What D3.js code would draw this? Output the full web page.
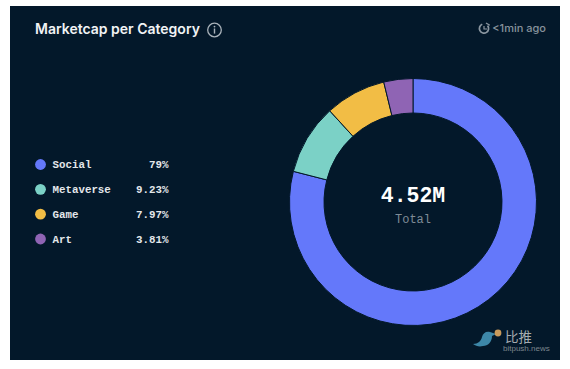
<!DOCTYPE html>
<html>
<head>
<meta charset="utf-8">
<script src="https://cdn.jsdelivr.net/npm/d3@7"></script>
<style>
html, body { margin: 0; padding: 0; background: #fff; }
svg { display: block; }
</style>
</head>
<body>
<div id="chart"></div>
<script>
const categories = ["Social", "Metaverse", "Game", "Art"];
const shares = [79, 9.23, 7.97, 3.81];
const shareLabels = ["79%", "9.23%", "7.97%", "3.81%"];
const colors = ["#6478fa", "#7bd1c6", "#f2bd45", "#8f64b4"];
const totalLabel = "4.52M";

const width = 570;
const height = 369;
const bg = "#03182a";
const mono = "'Liberation Mono', 'DejaVu Sans Mono', monospace";

const svg = d3.select("#chart").append("svg")
    .attr("width", width)
    .attr("height", height);

svg.append("rect")
    .attr("x", 10).attr("y", 6)
    .attr("width", 550).attr("height", 354)
    .attr("fill", bg);

// header
svg.append("text")
    .attr("x", 35).attr("y", 34)
    .attr("fill", "#f1f3f5")
    .style("font", "600 14px Inter, sans-serif")
    .text("Marketcap per Category");

const info = svg.append("g").attr("transform", "translate(214.5,30)");
info.append("circle").attr("r", 6.8).attr("fill", "none").attr("stroke", "#a9b2ba").attr("stroke-width", 1.3);
info.append("line").attr("y1", -1.5).attr("y2", 3.6).attr("stroke", "#a9b2ba").attr("stroke-width", 1.4);
info.append("circle").attr("cy", -3.4).attr("r", 0.9).attr("fill", "#a9b2ba");

const clock = svg.append("g").attr("transform", "translate(484,28.5)");
clock.append("path")
    .attr("d", d3.arc().innerRadius(4.6).outerRadius(4.6).startAngle(0.9).endAngle(5.9)())
    .attr("fill", "none").attr("stroke", "#8b96a0").attr("stroke-width", 1.7);
clock.append("path")
    .attr("d", "M0,-2.4V0.5H3")
    .attr("fill", "none").attr("stroke", "#8b96a0").attr("stroke-width", 1.2);
clock.append("path")
    .attr("d", "M2,-5.5L5.8,-3.2")
    .attr("fill", "none").attr("stroke", "#8b96a0").attr("stroke-width", 1.3);

svg.append("text")
    .attr("x", 546).attr("y", 32)
    .attr("text-anchor", "end")
    .attr("fill", "#87929c")
    .style("font", "500 11px Inter, sans-serif")
    .text("<1min ago");

// legend
const rowY = d3.scalePoint().domain(categories).range([164.5, 239]);

const rows = svg.append("g").selectAll("g")
    .data(categories)
    .enter()
    .append("g")
    .attr("transform", d => "translate(0," + rowY(d) + ")");

rows.append("circle")
    .attr("cx", 40.5).attr("r", 5.4)
    .attr("fill", (d, i) => colors[i]);

rows.append("text")
    .attr("x", 52.5).attr("y", 3.5)
    .attr("fill", "#e3e7ea")
    .style("font", "bold 10.8px " + mono)
    .text(d => d);

rows.append("text")
    .attr("x", 168.5).attr("y", 3.5)
    .attr("text-anchor", "end")
    .attr("fill", "#e3e7ea")
    .style("font", "bold 10.8px " + mono)
    .text((d, i) => shareLabels[i]);

// donut
const pie = d3.pie().sort(null).value(d => d);
const arc = d3.arc().innerRadius(89).outerRadius(123.5);

const donut = svg.append("g").attr("transform", "translate(413,202)");

donut.selectAll("path")
    .data(pie(shares))
    .enter()
    .append("path")
    .attr("d", arc)
    .attr("fill", (d, i) => colors[i])
    .attr("stroke", bg)
    .attr("stroke-width", 1);

donut.append("text")
    .attr("y", 0)
    .attr("text-anchor", "middle")
    .attr("fill", "#ffffff")
    .style("font", "bold 21.5px " + mono)
    .text(totalLabel);

donut.append("text")
    .attr("y", 21)
    .attr("text-anchor", "middle")
    .attr("fill", "#7f8c97")
    .style("font", "12px " + mono)
    .text("Total");

// watermark
const mark = svg.append("g");
mark.append("path")
    .attr("d", "M473,344 C478,344 481,341 482,337 C483,333 486,331 490,332 L493,333 L496,334 L492,336 C492,342 488,346 483,346 C479,347 476,346 473,344Z")
    .attr("fill", "#3d87a8");
mark.append("circle")
    .attr("cx", 498).attr("cy", 333).attr("r", 3.4)
    .attr("fill", "#c99a5b");
mark.append("text")
    .attr("x", 505).attr("y", 341.5)
    .attr("fill", "#a5abb0")
    .style("font", "13.5px 'Noto Sans CJK SC', sans-serif")
    .text("比推");
mark.append("text")
    .attr("x", 503).attr("y", 351)
    .attr("fill", "#7c858d")
    .style("font", "8px 'Liberation Sans', sans-serif")
    .text("bitpush.news");
</script>
</body>
</html>
